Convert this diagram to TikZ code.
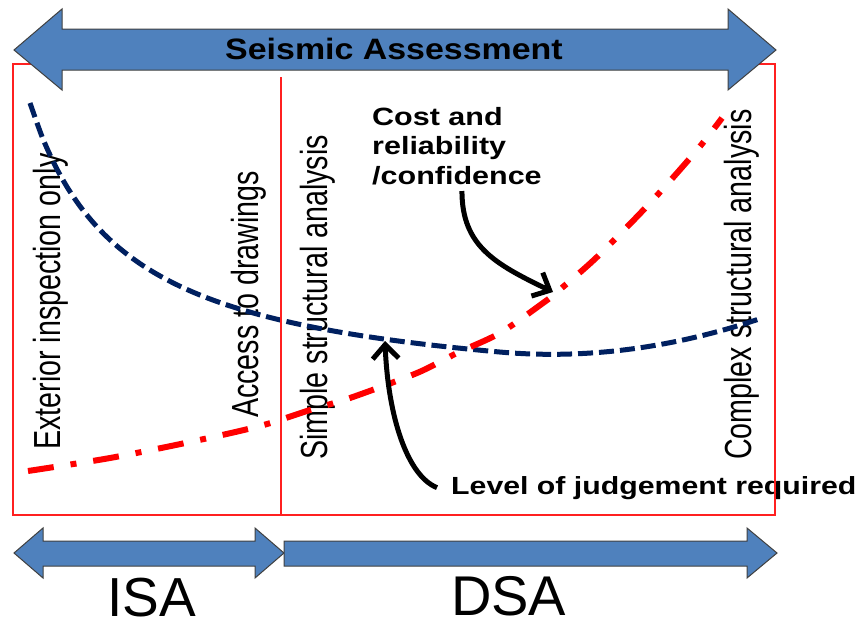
\documentclass[tikz,border=0pt]{standalone}
\usepackage{fontspec}
\setmainfont{Liberation Sans}
\newfontfamily\headfont[FakeStretch=1.15]{Liberation Sans}
\newfontfamily\notefont[FakeStretch=1.22]{Liberation Sans}
\newfontfamily\stagefont[FakeStretch=0.76]{Liberation Sans}
\usetikzlibrary{arrows.meta}
\definecolor{arrowblue}{HTML}{4F81BD}
\definecolor{navy}{HTML}{002060}
\definecolor{framered}{HTML}{FF2020}
\tikzset{
  bigarrow/.style={fill=arrowblue, draw=black!75, line width=1pt},
  stage/.style={rotate=90, anchor=base west, inner sep=0pt, font=\stagefont\fontsize{37.7}{40}\selectfont},
  note/.style={inner sep=0pt, font=\notefont\bfseries\fontsize{25}{29.5}\selectfont},
  pointer/.style={line width=5pt, -{Straight Barb[length=14pt, width=26pt]}},
  frameline/.style={draw=framered, line width=1.3pt}
}
\begin{document}
\begin{tikzpicture}[x=1pt, y=-1pt]
\useasboundingbox (0,0) rectangle (861,621);

% stages along the frame
\node[stage] (exterior) at (60,450) {Exterior inspection only};
\node[stage] (access) at (258,418) {Access to drawings};
\node[stage] (simple) at (327,460) {Simple structural analysis};
\node[stage] (complex) at (751,460) {Complex structural analysis};

% labels
\node[note, anchor=north west, align=left] (costlbl) at (372,107) {Cost and\\reliability\\/confidence};
\node[note, anchor=base west, font=\notefont\bfseries\fontsize{24.8}{26}\selectfont] (judgelbl) at (451,494) {Level of judgement required};

% curves
\draw[navy, line width=5pt, dash pattern=on 15pt off 6pt] plot[smooth, domain=30:762, samples=60] (\x, {402.4-284.4/(0.01*\x+0.65)-(0.02698*max(0,\x-500))^2});
\draw[red, line width=6pt, dash pattern=on 26pt off 17pt on 6pt off 17pt] plot[smooth] coordinates {(28,471) (110,458) (190,442) (260,426) (310,410) (350,398) (417,373) (457,353) (500,333) (543,303) (557,292) (597,257) (650,203) (697,150) (722,118)};

\coordinate (costpt) at (553,292);
\coordinate (judgept) at (385,341);
\draw[pointer] ([shift={(5,6)}]costlbl.south) .. controls +(0,55) and +(-58,-28) .. (costpt);
\draw[pointer] ([xshift=-14pt]judgelbl.west) .. controls +(-30,-12) and +(3,75) .. (judgept);

% frame
\draw[frameline] (13,64) rectangle (775,515);
\draw[frameline] (281,77) -- (281,515);

% arrows
\draw[bigarrow] (14,50) -- (62,9) -- (62,29) -- (728,29) -- (728,9) -- (776,50) -- (728,90) -- (728,70) -- (62,70) -- (62,90) -- cycle;
\node[inner sep=0pt, anchor=base, font=\headfont\bfseries\fontsize{29.5}{30}\selectfont] (title) at (394,59) {Seismic Assessment};

\draw[bigarrow] (14,553) -- (43,528) -- (43,541) -- (255,541) -- (255,528) -- (284,553) -- (255,578) -- (255,566) -- (43,566) -- (43,578) -- cycle;
\draw[bigarrow] (284,541) -- (747,541) -- (747,528) -- (777,553) -- (747,578) -- (747,566) -- (284,566) -- cycle;

\node[inner sep=0pt, anchor=base west, font=\fontsize{55}{55}\selectfont] (isa) at (107,616) {ISA};
\node[inner sep=0pt, anchor=base west, font=\fontsize{56}{56}\selectfont] (dsa) at (451,615) {DSA};
\end{tikzpicture}
\end{document}
